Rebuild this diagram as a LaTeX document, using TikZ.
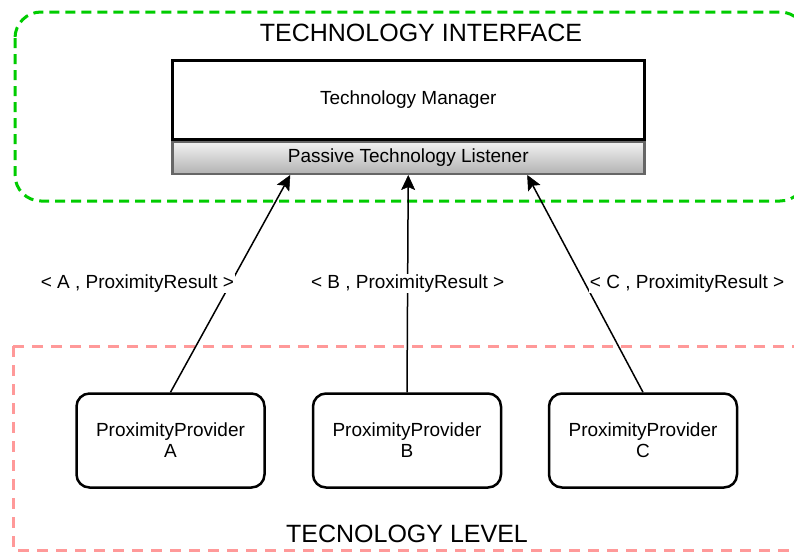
\documentclass[tikz,border=0pt]{standalone}
\usepackage{fontspec}
\setmainfont{Liberation Sans}
\usetikzlibrary{arrows.meta,positioning}
\definecolor{ifgreen}{RGB}{0,204,0}
\definecolor{levelred}{RGB}{255,153,153}

\begin{document}
\begin{tikzpicture}[x=1pt, y=-1pt,
    provider/.style={draw, line width=2.5pt, rounded corners=13pt, minimum width=188pt,
      minimum height=94pt, align=center, font=\fontsize{19}{21}\selectfont},
    result/.style={fill=white, inner sep=1pt, font=\fontsize{19}{22}\selectfont},
    title/.style={font=\fontsize{25}{30}\selectfont},
    link/.style={line width=1.5pt, -{Stealth[length=15pt,width=14pt,inset=3pt,line width=0.5pt]}}]
      \clip (0,0) rectangle (794,552);
      \fill[white] (0,0) rectangle (794,552);
      \draw[draw=ifgreen, line width=3pt, dash pattern=on 10pt off 6pt, rounded corners=26pt]
        (15,12) rectangle (806,201);
      \draw[draw=levelred, line width=3pt, dash pattern=on 11pt off 8pt] (13,346) rectangle (812,550);
      \node[title] (iftitle) at (421,33) {TECHNOLOGY INTERFACE};
      \node[title] (leveltitle) at (407,534) {TECNOLOGY LEVEL};
      \node[draw, line width=2.5pt, minimum width=472pt, minimum height=79pt, anchor=north west,
        font=\fontsize{19}{22}\selectfont] (manager) at (171,59) {\raisebox{-5pt}{Technology Manager}};
      \node[draw=black!60, line width=2.5pt, top color=black!5, bottom color=black!30,
        minimum width=472pt, minimum height=32pt, anchor=north,
        font=\fontsize{19}{22}\selectfont] (listener) at (manager.south) {Passive Technology Listener};
      \node[provider] (provA) at (170.5,440.5) {ProximityProvider\\A};
      \node[provider] (provB) at (407,440.5) {ProximityProvider\\B};
      \node[provider] (provC) at (643,440.5) {ProximityProvider\\C};
      \draw[link] (provA.north) -- node[result, xshift=-93pt] {< A , ProximityResult >}
        ([xshift=-118pt]listener.south);
      \draw[link] (provB.north) -- node[result] {< B , ProximityResult >} (listener.south);
      \draw[link] (provC.north) -- node[result, xshift=102pt] {< C , ProximityResult >}
        ([xshift=119pt]listener.south);
    \end{tikzpicture}
\end{document}
